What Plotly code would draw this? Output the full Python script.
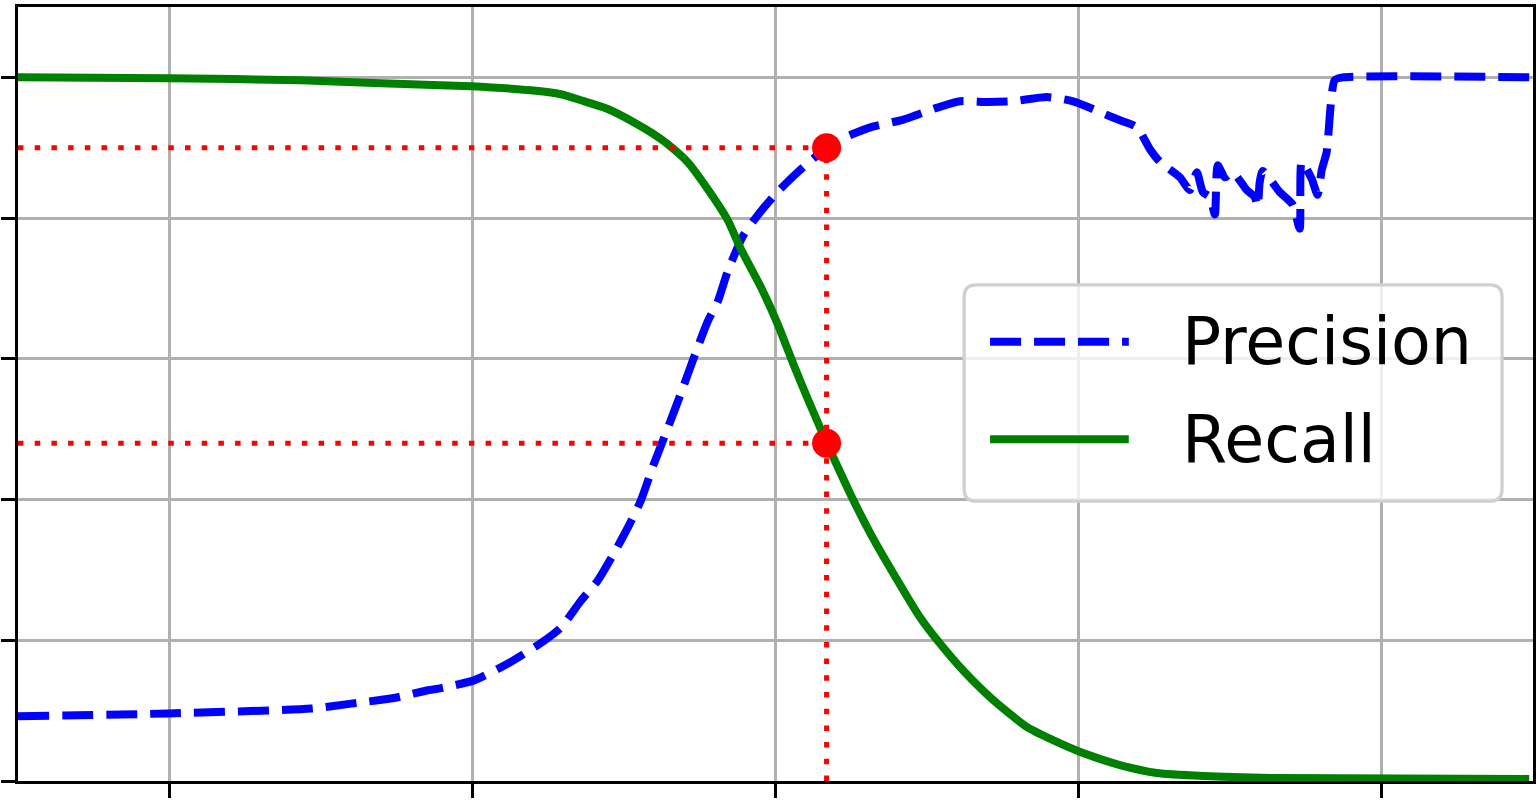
import plotly.graph_objects as go

# Thresholds (decision function values) and curves
thr_precision = [-50000, -40070, -30640, -28000, -25170, -22930, -22080, -19900, -17660,
                 -15490, -14170, -12850, -11730, -10680, -9750, -8900, -8040, -7120,
                 -6260, -5400, -4480, -3820, -3160, -2110, -990, 130, 1450, 3370,
                 4280, 6260, 8440, 10680, 12190, 13970, 15680, 17920, 19640, 20960,
                 22270, 22740, 23860, 24710, 25370, 26690, 27350, 27810, 28210, 28670,
                 29000, 29190, 29660, 30180, 31100, 31630, 31830, 31960, 32160, 33280,
                 34140, 34600, 34730, 35390, 35780, 36050, 36380, 36910, 37430, 49750]
precision = [0.092, 0.096, 0.103, 0.110, 0.118, 0.129, 0.132, 0.143, 0.167,
             0.196, 0.218, 0.256, 0.285, 0.323, 0.360, 0.398, 0.450, 0.501,
             0.550, 0.601, 0.653, 0.681, 0.724, 0.776, 0.809, 0.837, 0.865, 0.900,
             0.912, 0.929, 0.940, 0.957, 0.966, 0.965, 0.966, 0.972, 0.966, 0.955,
             0.943, 0.939, 0.929, 0.898, 0.880, 0.858, 0.840, 0.865, 0.837, 0.830,
             0.805, 0.875, 0.858, 0.865, 0.840, 0.830, 0.816, 0.851, 0.867, 0.837,
             0.819, 0.785, 0.880, 0.856, 0.833, 0.868, 0.894, 0.996, 1.0, 1.0]

thr_recall = [-50000, -40000, -31300, -26030, -20100, -16150, -14170, -12850, -11070,
              -9360, -8040, -7120, -5800, -4480, -3160, -2310, -990, 130, 1190,
              2110, 2970, 3370, 3620, 4940, 6260, 7780, 9560, 10870, 12390, 14370,
              16610, 18320, 20300, 22740, 25170, 28210, 33280, 49750]
recall = [1.0, 0.9986, 0.996, 0.9915, 0.9873, 0.9816, 0.9760, 0.9675, 0.9550,
          0.9363, 0.9193, 0.9051, 0.8796, 0.8414, 0.7975, 0.757, 0.703, 0.650, 0.592,
          0.544, 0.501, 0.4799, 0.469, 0.408, 0.352, 0.295, 0.232, 0.195, 0.157, 0.115,
          0.0765, 0.058, 0.0397, 0.0227, 0.0113, 0.0071, 0.0042, 0.003]

threshold_90 = 3370
precision_90 = 0.9
recall_90 = 0.4799
x_min, x_max = -50000, 50000
y_min, y_max = 0.0, 1.1
legend_labels = ["Precision", "Recall"]

BLUE, GREEN, RED = "#0000ff", "#008000", "#ff0000"
DASH = "31px,13px"

fig = go.Figure()
fig.add_trace(go.Scatter(x=thr_precision, y=precision, mode="lines", name=legend_labels[0],
                         line=dict(color=BLUE, width=8, dash=DASH, shape="spline", smoothing=0.6),
                         showlegend=False))
fig.add_trace(go.Scatter(x=thr_recall, y=recall, mode="lines", name=legend_labels[1],
                         line=dict(color=GREEN, width=8, shape="spline", smoothing=0.6),
                         showlegend=False))
# red dotted guide lines
dot = dict(color=RED, width=5, dash="5.5px,11.2px")
fig.add_trace(go.Scatter(x=[threshold_90, threshold_90], y=[0.0, precision_90], mode="lines",
                         line=dot, showlegend=False))
fig.add_trace(go.Scatter(x=[x_min, threshold_90], y=[precision_90, precision_90], mode="lines",
                         line=dot, showlegend=False))
fig.add_trace(go.Scatter(x=[x_min, threshold_90], y=[recall_90, recall_90], mode="lines",
                         line=dot, showlegend=False))
fig.add_trace(go.Scatter(x=[threshold_90, threshold_90], y=[precision_90, recall_90],
                         mode="markers", marker=dict(color=RED, size=29, line=dict(width=0)),
                         showlegend=False))

axis_common = dict(showline=True, linecolor="black", linewidth=3.3, mirror=True,
                   ticks="outside", ticklen=14, tickwidth=3.3, tickcolor="black",
                   showticklabels=False, showgrid=True, gridcolor="#b0b0b0", gridwidth=3,
                   zeroline=False)
fig.update_xaxes(range=[x_min, x_max], tick0=0, dtick=20000, **axis_common)
fig.update_yaxes(range=[y_min, y_max], tick0=0, dtick=0.2, **axis_common)

# ---- legend box (drawn manually to match matplotlib's look) ----
W, H = 1540, 804
ML, MR, MT, MB = 16, 6, 4, 23
PW, PH = W - ML - MR, H - MT - MB


def px(xp):
    return (xp - ML) / PW


def py(yp):
    return (H - MB - yp) / PH


bx0, bx1, by0, by1, rad = 964, 1503, 283, 500, 12
path = (f"M{px(bx0 + rad)},{py(by0)} L{px(bx1 - rad)},{py(by0)} "
        f"Q{px(bx1)},{py(by0)} {px(bx1)},{py(by0 + rad)} "
        f"L{px(bx1)},{py(by1 - rad)} Q{px(bx1)},{py(by1)} {px(bx1 - rad)},{py(by1)} "
        f"L{px(bx0 + rad)},{py(by1)} Q{px(bx0)},{py(by1)} {px(bx0)},{py(by1 - rad)} "
        f"L{px(bx0)},{py(by0 + rad)} Q{px(bx0)},{py(by0)} {px(bx0 + rad)},{py(by0)} Z")
fig.add_shape(type="path", path=path, xref="paper", yref="paper",
              fillcolor="rgba(255,255,255,0.8)", line=dict(color="#d0d0d0", width=3.3))

legend_rows = [(340, dict(color=BLUE, width=8, dash=DASH)),
               (438, dict(color=GREEN, width=8))]
for label, (ly, lstyle) in zip(legend_labels, legend_rows):
    fig.add_shape(type="line", xref="paper", yref="paper",
                  x0=px(990), x1=px(1129), y0=py(ly), y1=py(ly), line=lstyle)
    fig.add_annotation(text=label, xref="paper", yref="paper", x=px(1180), y=py(ly),
                       xanchor="left", yanchor="middle", showarrow=False,
                       font=dict(size=65, family="DejaVu Sans", color="black"))

fig.update_layout(
    width=W, height=H,
    margin=dict(l=ML, r=MR, t=MT, b=MB),
    plot_bgcolor="white", paper_bgcolor="white",
    font=dict(family="DejaVu Sans", color="black"),
    showlegend=False,
)
fig.write_html("out.html", config={"displayModeBar": False},
               post_script="document.body.style.margin='0px';")
